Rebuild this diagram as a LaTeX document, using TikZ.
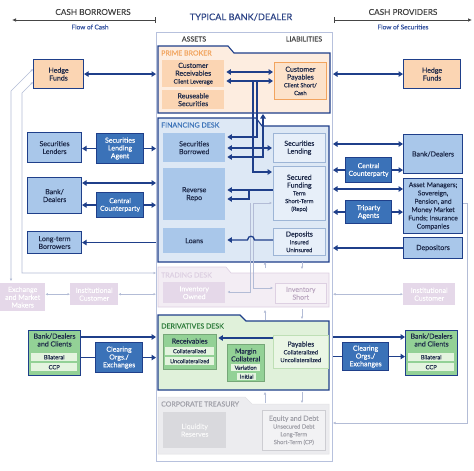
\documentclass[tikz,border=0pt]{standalone}
\usepackage{fontspec}
\setmainfont{Lato}[FakeBold=0.1]
\usetikzlibrary{arrows.meta,calc}
\definecolor{navy}{HTML}{1F3F8A}
\definecolor{txt}{HTML}{1E2A4A}
\definecolor{peach}{HTML}{FBD5B3}
\definecolor{peachbg}{HTML}{FDEDE0}
\definecolor{orng}{HTML}{F2A45E}
\definecolor{lblue}{HTML}{A9C7EA}
\definecolor{mblue}{HTML}{3B72B8}
\definecolor{finbg}{HTML}{DDE8F5}
\definecolor{palebl}{HTML}{E7EFF9}
\definecolor{palebd}{HTML}{9DB5D6}
\definecolor{grn}{HTML}{93D196}
\definecolor{grnbg}{HTML}{E0F1DA}
\definecolor{grnsub}{HTML}{E4F4DF}
\definecolor{grnpale}{HTML}{EAF6E5}
\definecolor{grnbd}{HTML}{BEDFB5}
\definecolor{dgrn}{HTML}{2F7D3C}
\definecolor{lav}{HTML}{E5D8E9}
\definecolor{lavbg}{HTML}{F3EDF4}
\definecolor{lavtxt}{HTML}{BCA9C2}
\definecolor{lavbd}{HTML}{DDD0E2}
\definecolor{trbg}{HTML}{ECECEF}
\definecolor{trbox}{HTML}{D9D9DD}
\definecolor{trtxt}{HTML}{A2A2AA}
\definecolor{trbd}{HTML}{CDCDD2}
\definecolor{garrc}{HTML}{B3BCD6}
\definecolor{outer}{HTML}{B7C1DD}
\definecolor{hdr}{HTML}{454545}
\definecolor{ttl}{HTML}{2B4285}
\definecolor{flow}{HTML}{3553A0}
\newcommand\fa{\fontsize{7}{7.8}\selectfont}
\newcommand\fb{\fontsize{5.8}{6.6}\selectfont}
\newcommand\fc{\fontsize{5.6}{6.4}\selectfont}
\begin{document}
\begin{tikzpicture}[x=1pt,y=-1pt,
 bx/.style={anchor=north west, inner sep=0.3pt, align=center, font=\fa, text=txt},
 nb/.style={bx, draw=navy, line width=1.1pt},
 pch/.style={nb, fill=peach},
 lb/.style={nb, fill=lblue},
 mb/.style={nb, fill=mblue, text=white},
 gb/.style={nb, fill=grn},
 subb/.style={bx, fill=grnsub, font=\fc},
 fad/.style={bx, fill=lav, text=white},
 inpch/.style={bx, fill=peach},
 inbl/.style={bx, fill=lblue},
 inpale/.style={bx, fill=palebl, draw=palebd, line width=0.6pt},
 arr/.style={navy, line width=1.3pt, -{Triangle[length=4.5pt,width=5.5pt]}},
 darr/.style={navy, line width=1.3pt, {Triangle[length=4.5pt,width=5.5pt]}-{Triangle[length=4.5pt,width=5.5pt]}},
 ln/.style={navy, line width=1.3pt},
 garr/.style={garrc, line width=0.7pt, -{Latex[length=2.5pt,width=2.5pt]}},
 gdarr/.style={garrc, line width=0.7pt, {Latex[length=2.5pt,width=2.5pt]}-{Latex[length=2.5pt,width=2.5pt]}},
 pnl/.style={font=\fa, anchor=west, inner sep=0pt}]
\useasboundingbox (0,0) rectangle (474,471);
\fill[white] (0,0) rectangle (474,471);

% ---------- header ----------
\node[font=\fontsize{8.2}{9.5}\selectfont, text=hdr] (cb) at (93,12) {CASH BORROWERS};
\coordinate (cbR) at (155,20); \coordinate (cbL) at (12,20);
\draw[hdr, line width=0.7pt, -{Latex[length=4pt,width=3.5pt]}] (cbR) -- (cbL);
\draw[hdr, line width=0.7pt] (155,17) -- (155,23);
\node[font=\fontsize{6.5}{7.5}\selectfont, text=flow] (foc) at (90,27) {Flow of Cash};
\node[font=\fontsize{9.2}{11}\selectfont, text=ttl] (ttl) at (241,17) {TYPICAL BANK/DEALER};
\node[font=\fontsize{8.2}{9.5}\selectfont, text=hdr] (cp) at (403,12) {CASH PROVIDERS};
\coordinate (cpL) at (334,20); \coordinate (cpR) at (472,20);
\draw[hdr, line width=0.7pt, -{Latex[length=4pt,width=3.5pt]}] (cpL) -- (cpR);
\draw[hdr, line width=0.7pt] (334,17) -- (334,23);
\node[font=\fontsize{6.5}{7.5}\selectfont, text=flow] (fos) at (403,27) {Flow of Securities};

% ---------- bank outer box ----------
\node[anchor=north west, draw=outer, line width=1pt, minimum width=176pt, minimum height=429pt, inner sep=0pt] (bank) at (156,32) {};
\node[font=\fa, text=hdr] (assets) at (194,39) {ASSETS};
\node[font=\fa, text=hdr] (liab) at (304,39) {LIABILITIES};

% ---------- panels ----------
\draw[navy, line width=1.1pt, fill=peachbg] (158,46) -- (228,46) -- (234,53) -- (330,53) -- (330,113) -- (158,113) -- cycle;
\node[pnl, text=orng] (pbl) at (161,53) {PRIME BROKER};
\draw[navy, line width=1.1pt, fill=finbg] (158,118) -- (256,118) -- (262,126) -- (329,126) -- (329,262) -- (158,262) -- cycle;
\node[pnl, text=mblue] (fdl) at (161,125) {FINANCING DESK};
\draw[lavbd, line width=0.6pt, fill=lavbg] (158,267) -- (226,267) -- (231,273) -- (329,273) -- (329,307) -- (158,307) -- cycle;
\node[pnl, text=lavbd] (tdl) at (161,275) {TRADING DESK};
\draw[navy, line width=1.1pt, fill=grnbg] (158,315) -- (240,315) -- (246,321) -- (329,321) -- (329,390) -- (158,390) -- cycle;
\node[pnl, text=dgrn] (ddl) at (161,326) {DERIVATIVES DESK};
\draw[trbd!60, line width=0.5pt, fill=trbg] (158,397) -- (245,397) -- (252,404) -- (329,404) -- (329,454) -- (158,454) -- cycle;
\node[pnl, text=trtxt] (ctl) at (161,404) {CORPORATE TREASURY};

% ---------- interior boxes ----------
\node[inpch, minimum width=62pt, minimum height=27pt] (custRec) at (162,60) {Customer\\Receivables\\{\fb Client Leverage}};
\node[inpch, minimum width=62pt, minimum height=19pt] (reuse) at (162,90) {Reuseable\\Securities};
\node[bx, fill=peach!70, draw=orng, line width=0.8pt, minimum width=52pt, minimum height=37pt] (custPay) at (274,62) {Customer\\Payables\\{\fb Client Short/}\\{\fb Cash}};

\node[inbl, minimum width=62pt, minimum height=29pt] (sbor) at (163,133) {Securities\\Borrowed};
\node[inbl, minimum width=62pt, minimum height=52pt] (rrepo) at (163,168) {Reverse\\Repo};
\node[inbl, minimum width=62pt, minimum height=25pt] (loans) at (163,228) {Loans};
\node[inpale, minimum width=52pt, minimum height=29pt] (slend) at (273,133) {Securities\\Lending};
\node[inpale, minimum width=52pt, minimum height=54pt] (sfund) at (273,166) {Secured\\Funding\\{\fb Term}\\{\fb Short-Term}\\{\fb (Repo)}};
\node[inpale, minimum width=52pt, minimum height=27pt] (deps) at (273,228) {Deposits\\{\fb Insured}\\{\fb Uninsured}};

\node[fad, minimum width=62pt, minimum height=21pt] (invO) at (163,282) {Inventory\\Owned};
\node[bx, fill=lavbg!60, draw=lavbd, line width=0.6pt, text=lavtxt, minimum width=51pt, minimum height=20pt] (invS) at (275,283) {Inventory\\Short};

\node[bx, fill=grn, draw=grn!80!black, line width=0.4pt, minimum width=53pt, minimum height=35pt] (recv) at (163,334) {};
\node[font=\fa, text=txt, inner sep=0pt] (recvT) at ($(recv.north)+(0,7)$) {Receivables};
\node[subb, minimum width=49pt, minimum height=8pt] (rc1) at (165,347) {Collateralized};
\node[subb, minimum width=49pt, minimum height=8pt] (rc2) at (165,357) {Uncollateralized};
\node[bx, fill=grn, draw=grn!80!black, line width=0.4pt, minimum width=37pt, minimum height=37pt] (margin) at (227,344) {};
\node[font=\fa, text=txt, align=center, inner sep=0pt] (marginT) at ($(margin.north)+(0,11)$) {Margin\\Collateral};
\node[subb, minimum width=29pt, minimum height=7pt] (mv) at (231,364) {Variation};
\node[subb, minimum width=19pt, minimum height=7pt] (mi) at (237,373) {Initial};
\node[bx, fill=grnpale, draw=grnbd, line width=0.6pt, minimum width=55pt, minimum height=33pt] (pay) at (273,335) {Payables\\{\fb Collateralized}\\{\fb Uncollateralized}};

\node[bx, fill=trbox, text=white!92!trtxt, minimum width=63pt, minimum height=36pt] (liq) at (163,412) {Liquidity\\Reserves};
\node[bx, fill=trbg!70!white, draw=trbd, line width=0.6pt, text=trtxt, minimum width=63pt, minimum height=40pt] (eqd) at (262,410) {Equity and Debt\\{\fb Unsecured Debt}\\{\fb Long-Term}\\{\fb Short-Term (CP)}};

% ---------- left column ----------
\node[pch, minimum width=50pt, minimum height=29pt] (hfL) at (33,59) {Hedge\\Funds};
\node[lb, minimum width=54pt, minimum height=30pt] (secL) at (27,132) {Securities\\Lenders};
\node[mb, minimum width=47pt, minimum height=30pt] (sla) at (96,133) {Securities\\Lending\\Agent};
\node[lb, minimum width=54pt, minimum height=36pt] (bdL) at (27,177) {Bank/\\Dealers};
\node[mb, minimum width=47pt, minimum height=25pt, font=\fontsize{6.8}{7.6}\selectfont] (ccpL) at (96,192) {Central\\Counterparty};
\node[lb, minimum width=54pt, minimum height=22pt] (ltb) at (27,231) {Long-term\\Borrowers};
\node[fad, minimum width=45pt, minimum height=28pt] (exL) at (0,283) {Exchange\\and Market\\Makers};
\node[fad, minimum width=48pt, minimum height=22pt] (icL) at (70,283) {Institutional\\Customer};
\node[gb, minimum width=52pt, minimum height=45pt] (bdcL) at (28,330) {};
\node[font=\fa, text=txt, align=center, inner sep=0pt] (bdcLT) at ($(bdcL.north)+(0,10)$) {Bank/Dealers\\and Clients};
\node[subb, font=\fb, minimum width=46pt, minimum height=8pt] (bdcL1) at (31,353) {Bilateral};
\node[subb, font=\fb, minimum width=46pt, minimum height=8pt] (bdcL2) at (31,363) {CCP};
\node[mb, minimum width=47pt, minimum height=30pt] (coL) at (95,342) {Clearing\\Orgs./\\Exchanges};

% ---------- right column ----------
\node[pch, minimum width=57pt, minimum height=29pt] (hfR) at (403,59) {Hedge\\Funds};
\node[lb, minimum width=59pt, minimum height=39pt] (bdR) at (403,134) {Bank/Dealers};
\node[mb, minimum width=46pt, minimum height=25pt, font=\fontsize{6.8}{7.6}\selectfont] (ccpR) at (345,157) {Central\\Counterparty};
\node[lb, minimum width=59pt, minimum height=55pt, font=\fontsize{6.7}{8.3}\selectfont] (amR) at (403,178) {Asset Managers;\\Sovereign,\\Pension, and\\Money Market\\Funds; Insurance\\Companies};
\node[mb, minimum width=46pt, minimum height=23pt] (tpR) at (345,200) {Triparty\\Agents};
\node[lb, minimum width=59pt, minimum height=21pt] (depR) at (403,237) {Depositors};
\node[fad, minimum width=52pt, minimum height=22pt] (icR) at (403,283) {Institutional\\Customer};
\node[mb, minimum width=46pt, minimum height=28pt] (coR) at (342,342) {Clearing\\Orgs./\\Exchanges};
\node[gb, minimum width=52pt, minimum height=45pt] (bdcR) at (405,330) {};
\node[font=\fa, text=txt, align=center, inner sep=0pt] (bdcRT) at ($(bdcR.north)+(0,10)$) {Bank/Dealers\\and Clients};
\node[subb, font=\fb, minimum width=46pt, minimum height=8pt] (bdcR1) at (408,353) {Bilateral};
\node[subb, font=\fb, minimum width=46pt, minimum height=8pt] (bdcR2) at (408,363) {CCP};

% ---------- gray connectors ----------
\draw[gdarr] (hfL.west |- 0,69) -- (11,91) -- (11,281);
\draw[gdarr] (hfL.west |- 0,82) -- (22,93) -- (22,273) -- (bank.west |- 0,273);
\draw[gdarr] (exL.east |- icL.west) -- (icL.west);
\draw[gdarr] (icL.east) -- (icL.east -| bank.west);
\draw[gdarr] (bank.east |- icR.west) -- (icR.west);
\draw[garr] (amR.east |- 0,203) -- (467,203) -- (467,423) -- (bank.east |- 0,423);
\draw[garr] (250,203) -- (250,292) -- ([xshift=2pt]invO.east |- 0,292);
\draw[gdarr] ([xshift=-2pt]invS.west |- 0,288) -- (253,288) -- (253,203) -- ([xshift=-1pt]sfund.west |- 0,203);
\draw[garr] (265,268) -- (265,262);
\draw[garr] (302,262) -- (302,269);
\draw[garr] (265,320) -- (265,310);
\draw[garr] (302,309) -- (302,319);
\draw[garr] (265,403) -- (265,392);
\draw[garr] (302,392) -- (302,403);

% ---------- navy connectors: left ----------
\draw[darr] (hfL.east) -- (hfL.east -| bank.west);
\draw[arr] (sla.west) -- (sla.west -| secL.east);
\draw[arr] (sla.east) -- (sla.east -| bank.west);
\draw[darr] (bdL.east |- 0,183) -- (bank.west |- 0,183);
\draw[arr] (ccpL.west) -- (ccpL.west -| bdL.east);
\draw[arr] (ccpL.east) -- (ccpL.east -| bank.west);
\draw[arr] (bank.west |- ltb.east) -- (ltb.east);
\draw[arr] (bdcL.east |- 0,337) -- (bank.west |- 0,337);
\draw[ln] (bdcL.east |- coL.west) -- (coL.west);
\draw[arr] (coL.east) -- (coL.east -| bank.west);

% ---------- navy connectors: right ----------
\draw[darr] (bank.east |- hfR.west) -- (hfR.west);
\draw[darr] (bank.east |- 0,144) -- (bdR.west |- 0,144);
\draw[arr] (ccpR.west) -- (ccpR.west -| bank.east);
\draw[arr] (ccpR.east) -- (ccpR.east -| bdR.west);
\draw[darr] (bank.east |- 0,189) -- (amR.west |- 0,189);
\draw[arr] (tpR.west) -- (tpR.west -| bank.east);
\draw[arr] (tpR.east) -- (tpR.east -| amR.west);
\draw[arr] (depR.west) -- (depR.west -| bank.east);
\draw[arr] (bank.east |- 0,337) -- (bdcR.west |- 0,337);
\draw[ln] (bank.east |- coR.west) -- (coR.west);
\draw[arr] (coR.east) -- (coR.east -| bdcR.west);

% ---------- navy connectors: interior ----------
\draw[darr] ([xshift=2pt]custRec.east |- 0,72) -- ([xshift=-1pt]custPay.west |- 0,72);
\draw[darr] ([xshift=2pt]custRec.east |- 0,81) -- ([xshift=-1pt]custPay.west |- 0,81);
\draw[arr] (253,81) -- (253,172) -- ([xshift=-1pt]sfund.west |- 0,172);
\draw[arr] (257,81) -- (257,137) -- ([xshift=2pt]sbor.east |- 0,137);
\draw[darr] ([xshift=2pt]sbor.east |- 0,148) -- ([xshift=-1pt]slend.west |- 0,148);
\draw[darr] ([xshift=2pt]sbor.east |- 0,157) -- (263,157) -- (263,114);
\draw[arr] (sfund.west |- 0,190) -- ([xshift=2pt]rrepo.east |- 0,190);
\draw[arr] (249,190) -- (249,199) -- ([xshift=2pt]rrepo.east |- 0,199);
\draw[arr] (deps.west |- 0,240) -- (254.5,240) .. controls (254,235) and (248,235) .. (247.5,240) -- ([xshift=2pt]loans.east |- 0,240);
\draw[arr] (pay.west |- 0,338) -- ([xshift=2pt]recv.east |- 0,338);
\end{tikzpicture}
\end{document}
